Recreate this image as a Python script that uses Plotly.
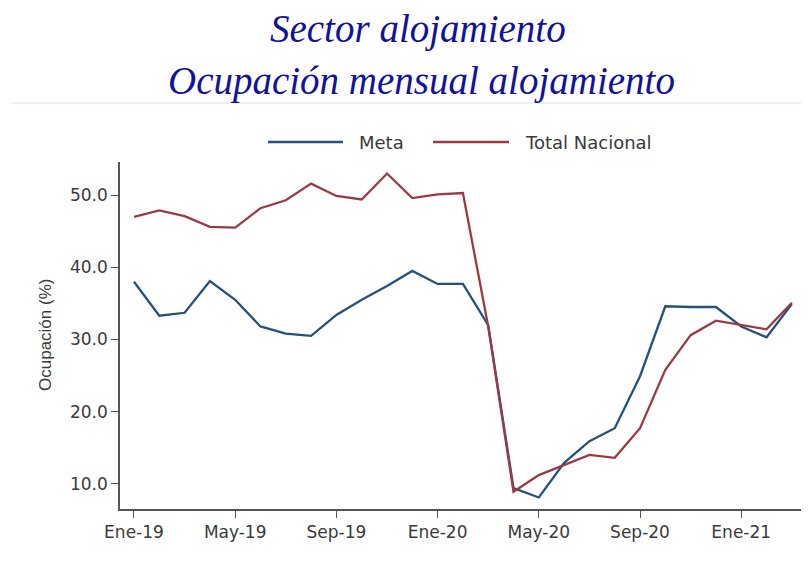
import plotly.graph_objects as go

# ---- data ----
months = ["Ene-19", "Feb-19", "Mar-19", "Abr-19", "May-19", "Jun-19", "Jul-19", "Ago-19",
          "Sep-19", "Oct-19", "Nov-19", "Dic-19", "Ene-20", "Feb-20", "Mar-20", "Abr-20",
          "May-20", "Jun-20", "Jul-20", "Ago-20", "Sep-20", "Oct-20", "Nov-20", "Dic-20",
          "Ene-21", "Feb-21", "Mar-21"]
meta = [38.0, 33.3, 33.7, 38.1, 35.5, 31.8, 30.8, 30.5, 33.4, 35.5, 37.4, 39.5, 37.7, 37.7,
        32.0, 9.4, 8.1, 12.9, 15.9, 17.7, 24.9, 34.6, 34.5, 34.5, 31.8, 30.3, 34.9]
total_nacional = [47.0, 47.9, 47.1, 45.6, 45.5, 48.2, 49.3, 51.6, 49.9, 49.4, 53.0, 49.6, 50.1,
                  50.3, 31.8, 8.9, 11.2, 12.6, 14.0, 13.6, 17.7, 25.8, 30.6, 32.6, 32.0, 31.4, 35.1]
tick_labels = ["Ene-19", "May-19", "Sep-19", "Ene-20", "May-20", "Sep-20", "Ene-21"]
y_ticks = [10, 20, 30, 40, 50]
series_names = ["Meta", "Total Nacional"]
title_lines = ["Sector alojamiento", "Ocupación mensual alojamiento"]
y_title = "Ocupación (%)"

BLUE = "#25527a"
RED = "#9b3a44"
OFF = 8  # page body margin
W, H = 809 - OFF, 564 - OFF
L, T = 120 - OFF, 162 - OFF
R = W - (805 - OFF)
B = H - (509 - OFF)
PW, PH = W - L - R, H - T - B


def px_x(p):
    # p: pixel x in page coordinates
    return (p - OFF - L) / PW


def px_y(p):
    return (H - B - (p - OFF)) / PH


fig = go.Figure()
fig.add_trace(go.Scatter(x=months, y=meta, mode="lines", name=series_names[0],
                         line=dict(color=BLUE, width=2.3), showlegend=False))
fig.add_trace(go.Scatter(x=months, y=total_nacional, mode="lines", name=series_names[1],
                         line=dict(color=RED, width=2.3), showlegend=False))

tick_font = dict(family="DejaVu Sans", size=17, color="#3a3a3a")

fig.update_layout(
    width=W, height=H,
    margin=dict(l=L, r=R, t=T, b=B),
    paper_bgcolor="white", plot_bgcolor="white",
    xaxis=dict(type="category", range=[-0.553, 26.52], tickmode="array",
               tickvals=tick_labels, ticktext=tick_labels,
               showgrid=False, zeroline=False, showline=True, linecolor="#555555", linewidth=1.6,
               ticks="outside", ticklen=7, tickcolor="#555555", tickwidth=1.4,
               tickfont=tick_font),
    yaxis=dict(range=[6.5, 54.6], tickmode="array", tickvals=y_ticks,
               ticktext=[f"{v:.1f}" for v in y_ticks],
               showgrid=False, zeroline=False, showline=True, linecolor="#555555", linewidth=1.6,
               ticks="outside", ticklen=7, tickcolor="#555555", tickwidth=1.4,
               tickfont=tick_font),
    showlegend=False,
)

# titles
title_font = dict(family="Liberation Serif", size=39, color="#12129a", style="italic")
fig.add_annotation(text=title_lines[0], xref="paper", yref="paper", x=px_x(418), y=px_y(29),
                   xanchor="center", yanchor="middle", showarrow=False, font=title_font)
fig.add_annotation(text=title_lines[1], xref="paper", yref="paper", x=px_x(421), y=px_y(81),
                   xanchor="center", yanchor="middle", showarrow=False, font=title_font)
# separator line under title
fig.add_shape(type="line", xref="paper", yref="paper", x0=px_x(12), x1=px_x(809),
              y0=px_y(103), y1=px_y(103), line=dict(color="#e4eeee", width=1.5))

# y-axis title
fig.add_annotation(text=y_title, xref="paper", yref="paper", x=px_x(45), y=px_y(335),
                   xanchor="center", yanchor="middle", textangle=-90, showarrow=False,
                   font=dict(family="Liberation Sans", size=17, color="#3a3a3a"))

# manual legend
leg_y = px_y(142)
legend_items = [(series_names[0], BLUE, 268, 343, 357), (series_names[1], RED, 433, 509, 523)]
for name, col, x0, x1, xt in legend_items:
    fig.add_shape(type="line", xref="paper", yref="paper", x0=px_x(x0), x1=px_x(x1),
                  y0=leg_y, y1=leg_y, line=dict(color=col, width=2.3))
    fig.add_annotation(text=name, xref="paper", yref="paper", x=px_x(xt), y=leg_y,
                       xanchor="left", yanchor="middle", showarrow=False,
                       font=dict(family="DejaVu Sans", size=18, color="#3a3a3a"))

fig.write_html("out.html")
